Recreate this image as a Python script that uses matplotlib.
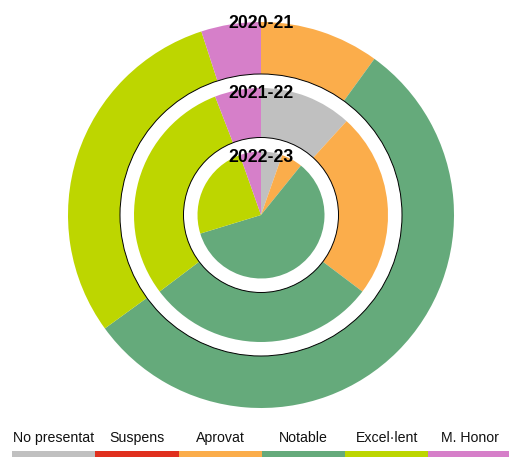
import matplotlib.pyplot as plt
from matplotlib.patches import Circle, Rectangle

# categories and colours
categories = ["No presentat", "Suspens", "Aprovat", "Notable", "Excel·lent", "M. Honor"]
colors = ["#c0c0c0", "#e0301e", "#fbad4b", "#65aa7b", "#bdd600", "#d67fc9"]

# number of students per grade, one list per course
years = ["2020-21", "2021-22", "2022-23"]
counts_2020 = [0, 0, 2, 11, 6, 1]
counts_2021 = [2, 0, 4, 5, 5, 1]
counts_2022 = [2, 0, 2, 22, 9, 2]

W, H = 509, 457
fig = plt.figure(figsize=(W / 100, H / 100), dpi=100)
ax = fig.add_axes([0, 0, 1, 1])

cx, cy = 261, H - 215

# each course is a full pie, drawn from biggest to smallest,
# with a white ring (black outline) between them
layers = [
    (counts_2020, 193, None),
    (counts_2021, 127, 141),
    (counts_2022, 63.5, 77.5),
]
z = 2
for counts, r, gap in layers:
    if gap is not None:
        ax.add_patch(Circle((cx, cy), gap, facecolor="white",
                            edgecolor="black", linewidth=0.7, zorder=z))
        z += 1
    wedges, _ = ax.pie(counts, colors=colors, radius=r, center=(cx, cy),
                       startangle=90, counterclock=False,
                       wedgeprops=dict(linewidth=0))
    for w in wedges:
        w.set_zorder(z)
    z += 1

# course labels
label_y = [H - 23, H - 93, H - 157]
for yr, ly in zip(years, label_y):
    ax.text(cx, ly, yr, ha="center", va="center", fontsize=12.7,
            fontweight="bold", family="Liberation Sans", color="black",
            zorder=20)

# legend along the bottom
x0, bw = 12, 83.3
for i, (name, c) in enumerate(zip(categories, colors)):
    ax.add_patch(Rectangle((x0 + i * bw, 0), bw, H - 451, facecolor=c,
                           edgecolor="none", zorder=20))
    ax.text(x0 + i * bw + bw / 2, H - 438, name, ha="center", va="center",
            fontsize=10.2, family="Liberation Sans", color="#111111")

ax.set_xlim(0, W)
ax.set_ylim(0, H)
ax.set_aspect("equal")
ax.axis("off")

fig.savefig("out.png", dpi=100, facecolor="white")
